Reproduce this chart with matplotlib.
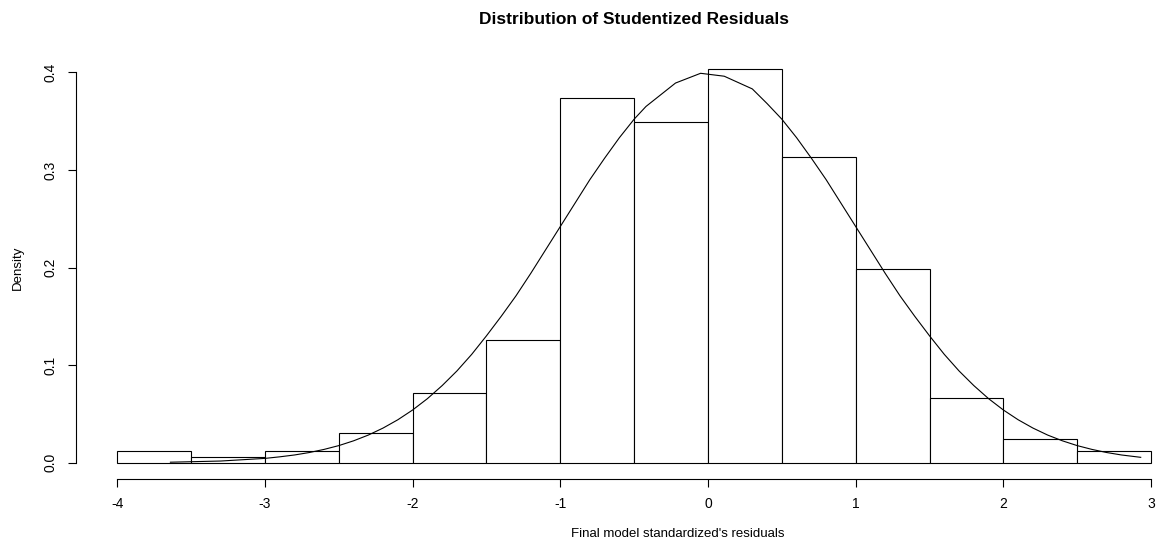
import matplotlib
matplotlib.use("Agg")
import matplotlib.pyplot as plt
import numpy as np

plt.rcParams['font.family'] = ['Liberation Sans', 'DejaVu Sans']

# histogram of studentized residuals (density scale)
bin_edges = [-4.0, -3.5, -3.0, -2.5, -2.0, -1.5, -1.0, -0.5, 0.0, 0.5, 1.0, 1.5, 2.0, 2.5, 3.0]
density = [0.0117, 0.0055, 0.0117, 0.0301, 0.0717, 0.126, 0.374, 0.349,
           0.403, 0.313, 0.1985, 0.066, 0.024, 0.0117]

# reference normal curve drawn through the sorted residuals
curve_x = [-3.64, -3.3, -3.0, -2.9, -2.8, -2.7, -2.6, -2.5, -2.4, -2.3, -2.2, -2.1,
           -2.0, -1.9, -1.8, -1.7, -1.6, -1.5, -1.4, -1.3, -1.2, -1.1, -1.0, -0.9,
           -0.8, -0.7, -0.6, -0.5, -0.42, -0.22, -0.05, 0.11, 0.30, 0.4, 0.5, 0.6,
           0.7, 0.8, 0.9, 1.0, 1.1, 1.2, 1.3, 1.4, 1.5, 1.6, 1.7, 1.8, 1.9, 2.0,
           2.1, 2.2, 2.3, 2.4, 2.5, 2.6, 2.7, 2.8, 2.93]
curve_y = [0.0005, 0.0017, 0.0044, 0.0060, 0.0079, 0.0104, 0.0136, 0.0175, 0.0224,
           0.0283, 0.0355, 0.044, 0.054, 0.0656, 0.079, 0.094, 0.111, 0.130, 0.150,
           0.171, 0.194, 0.218, 0.242, 0.266, 0.290, 0.312, 0.333, 0.352, 0.365,
           0.389, 0.399, 0.396, 0.383, 0.368, 0.352, 0.333, 0.312, 0.290, 0.266,
           0.242, 0.218, 0.194, 0.171, 0.150, 0.130, 0.111, 0.094, 0.079, 0.0656,
           0.054, 0.044, 0.0355, 0.0283, 0.0224, 0.0175, 0.0136, 0.0104, 0.0079,
           0.0055]

x_ticks = [-4, -3, -2, -1, 0, 1, 2, 3]
y_ticks = [0.0, 0.1, 0.2, 0.3, 0.4]
y_tick_labels = ['0.0', '0.1', '0.2', '0.3', '0.4']

W, H = 1161, 543
fig = plt.figure(figsize=(W / 100, H / 100), dpi=100)

# plot region in pixels (R style, 4% padding on both axes)
left_px, right_px = 75.9, 1192.4
top_px, bottom_px = 52.6, 478.5
ax = fig.add_axes([left_px / W, 1 - bottom_px / H,
                   (right_px - left_px) / W, (bottom_px - top_px) / H])
ax.set_xlim(-4.28, 3.28)
ax.set_ylim(-0.0162, 0.4202)

widths = np.diff(bin_edges)
ax.bar(bin_edges[:-1], density, width=widths, align='edge',
       facecolor='white', edgecolor='black', linewidth=0.8)
ax.plot(curve_x, curve_y, color='black', linewidth=0.8)

ax.spines['top'].set_visible(False)
ax.spines['right'].set_visible(False)
ax.spines['bottom'].set_bounds(-4, 3)
ax.spines['left'].set_bounds(0, 0.4)
for s in ('bottom', 'left'):
    ax.spines[s].set_linewidth(0.8)

ax.set_xticks(x_ticks)
ax.set_xticklabels([str(t) for t in x_ticks])
ax.set_yticks(y_ticks)
ax.set_yticklabels(y_tick_labels, rotation=90, va='center')
ax.tick_params(axis='both', length=6, width=0.8, labelsize=10, pad=7, color='black')

fig.text(634 / W, 1 - 19 / H, 'Distribution of Studentized Residuals',
         ha='center', va='center', fontsize=12.5, fontweight='bold')
fig.text(678 / W, 1 - 534 / H, "Final model standardized's residuals",
         ha='center', va='center', fontsize=9.5)
fig.text(18 / W, 1 - 268 / H, 'Density', ha='center', va='center',
         rotation=90, fontsize=9.5)

fig.savefig('out.png', dpi=100)
